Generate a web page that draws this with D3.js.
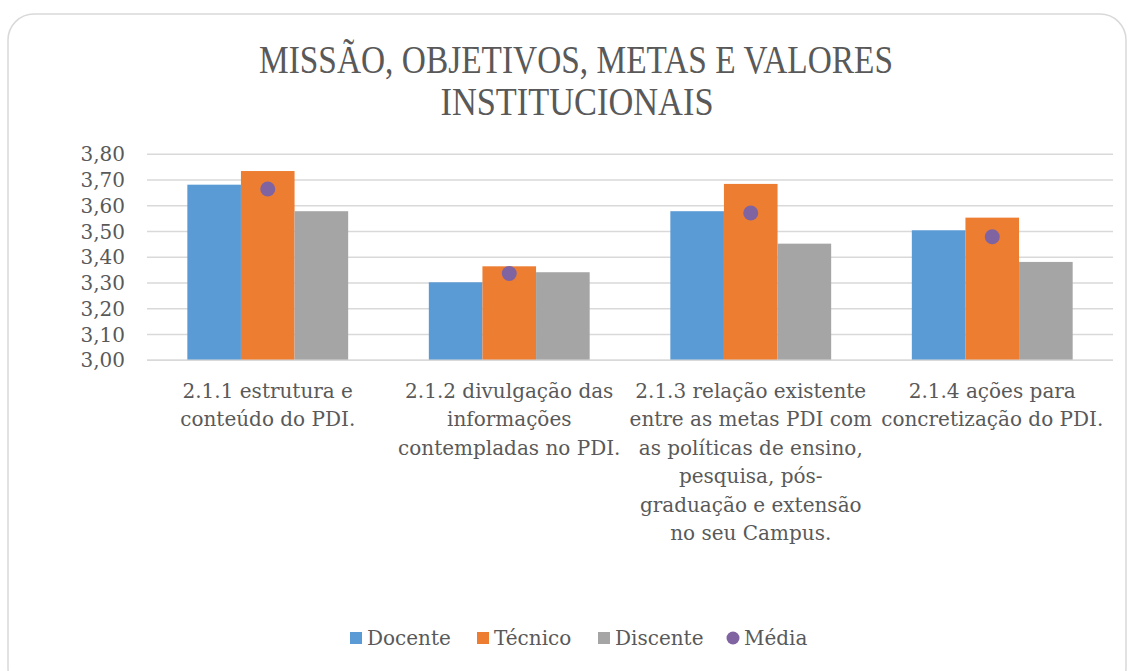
<!DOCTYPE html>
<html>
<head>
<meta charset="utf-8">
<script src="https://cdn.jsdelivr.net/npm/d3@7"></script>
<style>
  body { margin: 0; background: #fff; }
  svg { display: block; }
  text { font-family: "DejaVu Serif", serif; fill: #595959; }
</style>
</head>
<body>
<svg id="chart" width="1130" height="671"></svg>
<script>
const categories = [
  ["2.1.1 estrutura e", "conteúdo do PDI."],
  ["2.1.2 divulgação das", "informações", "contempladas no PDI."],
  ["2.1.3 relação existente", "entre as metas PDI com", "as políticas de ensino,", "pesquisa, pós-", "graduação e extensão", "no seu Campus."],
  ["2.1.4 ações para", "concretização do PDI."]
];
const series = ["Docente", "Técnico", "Discente"];
const docente = [3.682, 3.303, 3.579, 3.505];
const tecnico = [3.735, 3.365, 3.685, 3.554];
const discente = [3.579, 3.342, 3.453, 3.382];
const media = [3.665, 3.337, 3.572, 3.480];
const yTicks = [3.0, 3.1, 3.2, 3.3, 3.4, 3.5, 3.6, 3.7, 3.8];

const colors = { "Docente": "#5b9bd5", "Técnico": "#ed7d31", "Discente": "#a5a5a5", "Média": "#8064a2" };

const svg = d3.select('#chart');

// card border
svg.append('rect')
  .attr('x', 8).attr('y', 14)
  .attr('width', 1118).attr('height', 680)
  .attr('rx', 26)
  .attr('fill', '#fff')
  .attr('stroke', '#d9d9d9')
  .attr('stroke-width', 1.5);

// title - condensed like the original
const title = svg.append('text')
  .attr('text-anchor', 'middle')
  .style('font-family', '"Liberation Serif", serif')
  .style('font-size', '40px');
title.append('tspan').attr('x', 576).attr('y', 73)
  .attr('textLength', 634).attr('lengthAdjust', 'spacingAndGlyphs')
  .text('MISSÃO, OBJETIVOS, METAS E VALORES');
title.append('tspan').attr('x', 577).attr('y', 115)
  .attr('textLength', 273).attr('lengthAdjust', 'spacingAndGlyphs')
  .text('INSTITUCIONAIS');

const plotLeft = 147, plotRight = 1113, plotTop = 154.3, plotBottom = 360.3;

const y = d3.scaleLinear().domain([3.0, 3.8]).range([plotBottom, plotTop]);
const x0 = d3.scaleBand()
  .domain(d3.range(categories.length))
  .range([plotLeft, plotRight])
  .paddingInner(0.334)
  .paddingOuter(0.167);
const x1 = d3.scaleBand().domain(series).range([0, x0.bandwidth()]);

// gridlines
svg.append('g')
  .selectAll('line')
  .data(yTicks)
  .join('line')
  .attr('x1', plotLeft).attr('x2', plotRight)
  .attr('y1', d => y(d)).attr('y2', d => y(d))
  .attr('stroke', '#d9d9d9')
  .attr('stroke-width', 1.5);

// y axis labels
const fmt = d => d3.format('.2f')(d).replace('.', ',');
svg.append('g')
  .selectAll('text')
  .data(yTicks)
  .join('text')
  .attr('x', 125)
  .attr('y', d => y(d) + 7)
  .attr('text-anchor', 'end')
  .style('font-size', '20px')
  .text(fmt);

// bars
const values = { "Docente": docente, "Técnico": tecnico, "Discente": discente };
const groups = svg.append('g')
  .selectAll('g')
  .data(categories.map((c, i) => i))
  .join('g')
  .attr('transform', i => `translate(${x0(i)},0)`);

groups.selectAll('rect')
  .data(i => series.map(s => ({ s, v: values[s][i] })))
  .join('rect')
  .attr('x', d => x1(d.s))
  .attr('width', x1.bandwidth())
  .attr('y', d => y(d.v))
  .attr('height', d => y(3.0) - y(d.v))
  .attr('fill', d => colors[d.s]);

// media points
svg.append('g')
  .selectAll('circle')
  .data(media)
  .join('circle')
  .attr('cx', (d, i) => x0(i) + x0.bandwidth() / 2)
  .attr('cy', d => y(d))
  .attr('r', 7.5)
  .attr('fill', colors["Média"]);

// bottom axis line
svg.append('line')
  .attr('x1', plotLeft).attr('x2', plotRight)
  .attr('y1', plotBottom).attr('y2', plotBottom)
  .attr('stroke', '#d9d9d9').attr('stroke-width', 1.5);

// category labels
svg.append('g')
  .selectAll('text')
  .data(categories)
  .join('text')
  .attr('text-anchor', 'middle')
  .style('font-size', '20px')
  .each(function(lines, i) {
    const t = d3.select(this);
    lines.forEach((l, k) => {
      t.append('tspan')
        .attr('x', x0(i) + x0.bandwidth() / 2)
        .attr('y', 398 + k * 28.4)
        .text(l);
    });
  });

// legend
const legendItems = ["Docente", "Técnico", "Discente", "Média"];
const legendX = [350, 477, 598, 727];
const legend = svg.append('g');
legendItems.forEach((name, i) => {
  const g = legend.append('g').attr('transform', `translate(${legendX[i]},638)`);
  if (name === "Média") {
    g.append('circle').attr('cx', 6).attr('cy', 0).attr('r', 6.5).attr('fill', colors[name]);
  } else {
    g.append('rect').attr('x', 0).attr('y', -6).attr('width', 12).attr('height', 12).attr('fill', colors[name]);
  }
  g.append('text').attr('x', 17).attr('y', 7).style('font-size', '20px').text(name);
});
</script>
</body>
</html>
